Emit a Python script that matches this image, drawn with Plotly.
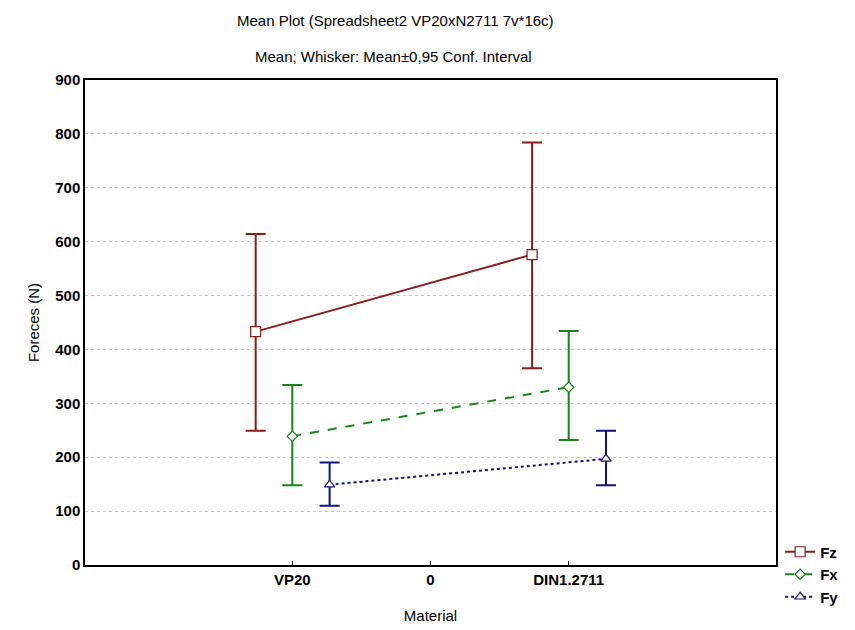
import plotly.graph_objects as go

# ---- data ----
materials = ["VP20", "DIN1.2711"]
tick_labels = ["VP20", "0", "DIN1.2711"]
series = ["Fz", "Fx", "Fy"]
fz_mean = [433, 576]
fz_low = [249, 365]
fz_high = [614, 784]
fx_mean = [239, 330]
fx_low = [148, 232]
fx_high = [334, 434]
fy_mean = [149, 197]
fy_low = [110, 148]
fy_high = [190, 249]

base_x = [0, 2]          # category positions of the two materials
tick_pos = [0, 1, 2]
offsets = [-0.265, 0.0, 0.27]
colors = ["#8b1a1a", "#16861a", "#12127a"]
dashes = ["solid", "dash", "dot"]
symbols = ["square", "diamond", "triangle-up"]
msizes = [10, 8, 9]

data = [(fz_mean, fz_low, fz_high), (fx_mean, fx_low, fx_high), (fy_mean, fy_low, fy_high)]

FONT = "Liberation Sans, Arial, sans-serif"

fig = go.Figure()
for i, (name, (m, lo, hi)) in enumerate(zip(series, data)):
    xs = [b + offsets[i] for b in base_x]
    fig.add_trace(go.Scatter(
        x=xs, y=m, name=name, mode="lines+markers",
        line=dict(color=colors[i], width=2, dash=dashes[i]),
        marker=dict(symbol=symbols[i], size=msizes[i], color="white",
                    line=dict(width=1.2, color=colors[i])),
        error_y=dict(type="data", symmetric=False,
                     array=[h - v for h, v in zip(hi, m)],
                     arrayminus=[v - l for v, l in zip(m, lo)],
                     color=colors[i], thickness=2, width=10),
    ))

# page body has an 8px margin, so the figure is sized/offset to compensate
W, H = 847, 622
L, T = 77, 72
R = W - (776 - 8)
B = H - (565 - 8)

fig.update_layout(
    width=W, height=H,
    margin=dict(l=L, r=R, t=T, b=B, autoexpand=False),
    plot_bgcolor="white", paper_bgcolor="white",
    font=dict(family=FONT, color="black", size=14),
    showlegend=True,
    legend=dict(x=1.006, y=-0.1, xanchor="left", yanchor="bottom",
                font=dict(size=15, weight="bold"), bgcolor="rgba(0,0,0,0)",
                itemwidth=30, tracegroupgap=0),
    xaxis=dict(range=[-1.5, 3.5], tickmode="array", tickvals=tick_pos,
               ticktext=tick_labels, showgrid=False, zeroline=False,
               showline=True, linecolor="black", linewidth=1.5, mirror=True,
               ticks="inside", ticklen=4, tickcolor="black", automargin=False,
               tickfont=dict(size=15, family=FONT, weight="bold"),
               title=dict(text="Material", font=dict(size=15), standoff=24)),
    yaxis=dict(range=[0, 900], tickmode="linear", tick0=0, dtick=100,
               showgrid=True, gridcolor="#c4c4c4", griddash="dot", gridwidth=1,
               zeroline=False, showline=True, linecolor="black", linewidth=1.5,
               mirror=True, ticks="", automargin=False,
               tickfont=dict(size=15, family=FONT, weight="bold"),
               title=dict(text="Foreces (N)", font=dict(size=15), standoff=12)),
)

pw = 776 - 85
ph = 565 - 80
fig.add_annotation(text="Mean Plot (Spreadsheet2 VP20xN2711 7v*16c)",
                   xref="paper", yref="paper", x=(395 - 85) / pw, y=1 + (80 - 20) / ph,
                   showarrow=False, font=dict(size=15),
                   xanchor="center", yanchor="middle")
fig.add_annotation(text="Mean; Whisker: Mean±0,95 Conf. Interval",
                   xref="paper", yref="paper", x=(393 - 85) / pw, y=1 + (80 - 57) / ph,
                   showarrow=False, font=dict(size=15),
                   xanchor="center", yanchor="middle")

fig.write_html("out.html")
